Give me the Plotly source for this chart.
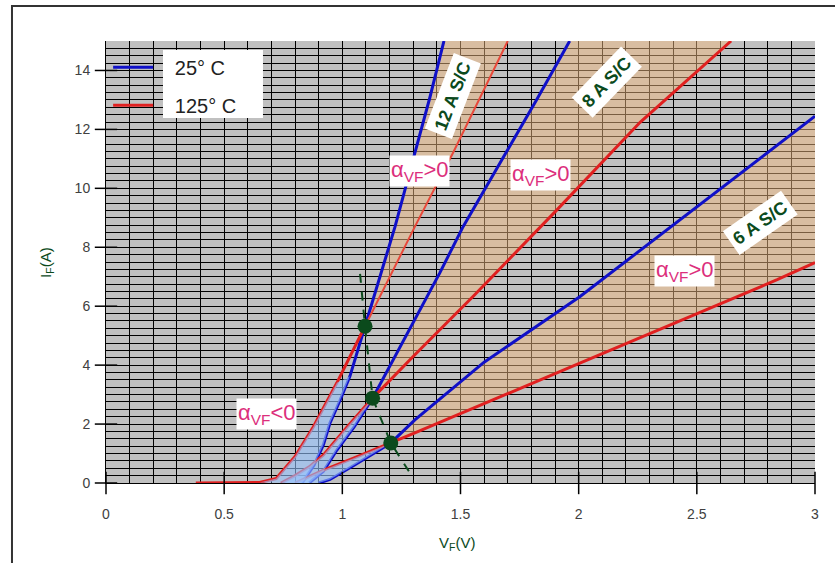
import plotly.graph_objects as go

# ---- data ----
blue12_v = [0.83, 0.88, 0.92, 0.948, 0.99, 1.032, 1.096, 1.223, 1.307, 1.371, 1.43]
blue12_i = [0.0, 0.6, 1.3, 2.04, 2.8, 3.62, 5.32, 8.7, 11.2, 13.1, 15.0]
red12_v = [0.38, 0.65, 0.72, 0.80, 0.877, 0.977, 1.096, 1.307, 1.468, 1.70]
red12_i = [0.0, 0.02, 0.15, 0.9, 1.9, 3.4, 5.32, 8.7, 11.2, 15.0]

blue8_v = [0.86, 0.92, 0.977, 1.05, 1.128, 1.413, 1.511, 1.824, 1.962]
blue8_i = [0.0, 0.4, 1.12, 1.9, 2.88, 7.14, 8.7, 13.03, 15.0]
red8_v = [0.74, 0.80, 0.86, 0.92, 1.02, 1.128, 1.307, 1.553, 1.9, 2.26, 2.645]
red8_i = [0.0, 0.25, 0.55, 0.95, 1.9, 2.88, 4.35, 6.33, 9.2, 12.24, 15.0]

blue6_v = [0.90, 0.948, 1.05, 1.205, 1.307, 1.6, 2.006, 2.5, 3.0]
blue6_i = [0.0, 0.12, 0.6, 1.36, 2.14, 4.1, 6.33, 9.37, 12.45]
red6_v = [0.80, 0.92, 1.05, 1.205, 1.307, 2.0, 2.84, 3.0]
red6_i = [0.0, 0.44, 0.85, 1.36, 1.7, 4.05, 6.9, 7.48]

cross_v = [1.096, 1.128, 1.205]
cross_i = [5.32, 2.88, 1.36]
wedge_top_i = [3.62, 2.88, 1.36]   # upper limit of the light-blue (alpha_VF<0) shading
trend_v = [1.075, 1.096, 1.128, 1.205, 1.286]
trend_i = [7.1, 5.32, 2.88, 1.36, 0.34]

x_ticks = [0, 0.5, 1, 1.5, 2, 2.5, 3]
x_tick_text = ["0", "0.5", "1", "1.5", "2", "2.5", "3"]
y_ticks = [0, 2, 4, 6, 8, 10, 12, 14]
x_grid_step = 0.1
y_grid_step = 0.25

BLUE = "#1010c8"
RED = "#e02020"
RED_THIN = "#e8483a"
GREEN = "#0b4a1c"
TAN = "rgba(240,185,130,0.5)"
LBLUE = "rgba(150,195,255,0.6)"
FONT = "Liberation Sans, Arial, sans-serif"
NB = "\u00a0"

# grid positions (one gridline per cell) and their labels
x_grid = [round(k * x_grid_step, 2) for k in range(31)]
x_grid_text = [x_tick_text[x_ticks.index(v)] if v in x_ticks else "" for v in x_grid]
y_grid = [round(k * y_grid_step, 2) for k in range(61)]
y_grid_text = [str(int(v)) if v in y_ticks else "" for v in y_grid]

fig = go.Figure()


def split(v, i, iv):
    k = v.index(iv)
    return (v[:k + 1], i[:k + 1]), (v[k:], i[k:])


pairs = [
    (blue12_v, blue12_i, red12_v, red12_i, cross_v[0]),
    (blue8_v, blue8_i, red8_v, red8_i, cross_v[1]),
    (blue6_v, blue6_i, red6_v, red6_i, cross_v[2]),
]

# tan regions above the crossover (alpha_VF > 0)
for bv, bi, rv, ri, cv in pairs:
    _, (bvu, biu) = split(bv, bi, cv)
    _, (rvu, riu) = split(rv, ri, cv)
    fig.add_trace(go.Scatter(x=bvu + rvu[::-1], y=biu + riu[::-1], fill="toself",
                             fillcolor=TAN, line=dict(width=0), mode="lines",
                             showlegend=False, hoverinfo="skip"))

# curves
for n, (bv, bi, rv, ri, cv) in enumerate(pairs):
    fig.add_trace(go.Scatter(x=bv, y=bi, mode="lines", line=dict(color=BLUE, width=3),
                             name=NB * 3 + "25° C", legendgroup="a", showlegend=(n == 0)))
for n, (bv, bi, rv, ri, cv) in enumerate(pairs):
    if n == 0:
        (rvl, ril), (rvu, riu) = split(rv, ri, cv)
        fig.add_trace(go.Scatter(x=rvl, y=ril, mode="lines", line=dict(color=RED, width=3),
                                 name=NB * 3 + "125° C", legendgroup="b", showlegend=True))
        fig.add_trace(go.Scatter(x=rvu, y=riu, mode="lines", line=dict(color=RED_THIN, width=2),
                                 legendgroup="b", showlegend=False))
    else:
        fig.add_trace(go.Scatter(x=rv, y=ri, mode="lines", line=dict(color=RED, width=3),
                                 legendgroup="b", showlegend=False))

# light blue wedges below the crossover (alpha_VF < 0)
for (bv, bi, rv, ri, cv), top in zip(pairs, wedge_top_i):
    bvl = [v for v, i in zip(bv, bi) if i <= top]
    bil = [i for v, i in zip(bv, bi) if i <= top]
    rvl = [v for v, i in zip(rv, ri) if i <= top and v >= 0.6]
    ril = [i for v, i in zip(rv, ri) if i <= top and v >= 0.6]
    fig.add_trace(go.Scatter(x=rvl + bvl[::-1], y=ril + bil[::-1], fill="toself",
                             fillcolor=LBLUE, line=dict(width=0), mode="lines",
                             showlegend=False, hoverinfo="skip"))

fig.add_trace(go.Scatter(x=trend_v, y=trend_i, mode="lines",
                         line=dict(color=GREEN, width=2, dash="dash"),
                         showlegend=False, hoverinfo="skip"))
fig.add_trace(go.Scatter(x=cross_v, y=cross_i, mode="markers",
                         marker=dict(color=GREEN, size=15), showlegend=False))

# major tick marks (only at the labelled values), drawn as line markers on the axes
fig.add_trace(go.Scatter(x=x_ticks, y=[0] * len(x_ticks), mode="markers", cliponaxis=False,
                         marker=dict(symbol="line-ns", size=16, line=dict(color="black", width=1.5)),
                         showlegend=False, hoverinfo="skip"))
fig.add_trace(go.Scatter(x=[0] * len(y_ticks), y=y_ticks, mode="markers", cliponaxis=False,
                         marker=dict(symbol="line-ew", size=16, line=dict(color="black", width=1.5)),
                         showlegend=False, hoverinfo="skip"))

annos = []
alpha_pos = [(1.325, 10.6, "&gt;0"), (1.84, 10.44, "&gt;0"), (2.446, 7.2, "&gt;0"), (0.677, 2.35, "&lt;0")]
for x, y, s in alpha_pos:
    annos.append(dict(x=x, y=y, xref="x", yref="y", showarrow=False,
                      text="α<sub>VF</sub>" + s, bgcolor="white", borderpad=1,
                      font=dict(family=FONT, size=22, color="#dc2f7c")))
sc_pos = [(1.468, 13.13, "12 A S/C", -69), (2.12, 13.6, "8 A S/C", -46), (2.767, 8.84, "6 A S/C", -35)]
for x, y, s, a in sc_pos:
    annos.append(dict(x=x, y=y, xref="x", yref="y", showarrow=False, text="<b>" + s + "</b>",
                      textangle=a, bgcolor="white", borderpad=4,
                      font=dict(family=FONT, size=18, color=GREEN)))
annos.append(dict(x=0.495, y=-0.163, xref="paper", yref="paper", showarrow=False,
                  text="V<sub>F</sub>(V)", font=dict(family=FONT, size=15, color=GREEN)))
annos.append(dict(x=-0.101, y=0.5, xref="paper", yref="paper", showarrow=False, textangle=-90,
                  text="I<sub>F</sub>(A)", font=dict(family=FONT, size=15, color=GREEN)))

shapes = [
    dict(type="rect", xref="paper", yref="paper", x0=0.0804, x1=0.2214, y0=0.8258, y1=0.9796,
         fillcolor="white", line=dict(width=0), layer="above"),
    dict(type="rect", xref="paper", yref="paper", x0=-0.1326, x1=1.1, y0=-0.25, y1=1.079,
         fillcolor="rgba(0,0,0,0)", line=dict(color="#333333", width=2), layer="above"),
]

axis_common = dict(showline=True, linecolor="black", linewidth=1, ticks="",
                   zeroline=False, showgrid=True, gridcolor="black", gridwidth=1,
                   tickfont=dict(family=FONT, size=14, color="#404040"))

fig.update_layout(
    width=835, height=563,
    margin=dict(l=106, r=20, t=41, b=80),
    paper_bgcolor="white", plot_bgcolor="#c0c0c0",
    font=dict(family=FONT, size=14, color="#404040"),
    annotations=annos, shapes=shapes,
    legend=dict(x=0.003, y=0.985, xanchor="left", yanchor="top", bgcolor="rgba(0,0,0,0)",
                font=dict(family=FONT, size=20, color="#222222"), tracegroupgap=9,
                itemwidth=40),
    xaxis=dict(range=[0, 3], tickmode="array", tickvals=x_grid, ticktext=x_grid_text,
               ticklabelstandoff=18, **axis_common),
    yaxis=dict(range=[0, 15], tickmode="array", tickvals=y_grid, ticktext=y_grid_text,
               ticklabelstandoff=12, **axis_common),
)

fig.write_html("out.html", post_script="document.body.style.margin='0';",
               config={"displayModeBar": False})
